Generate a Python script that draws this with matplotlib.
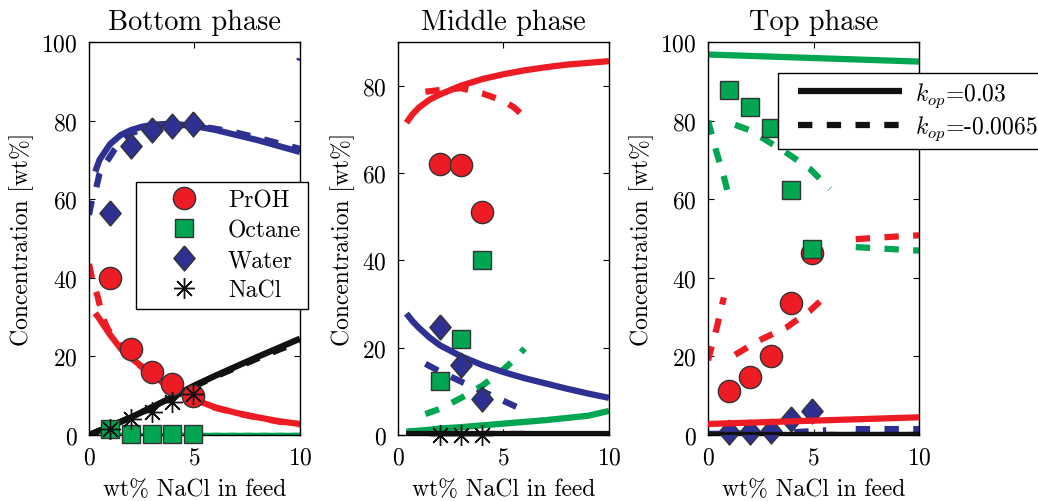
import matplotlib.pyplot as plt
from matplotlib.lines import Line2D
from matplotlib.legend_handler import HandlerLine2D
import numpy as np

plt.rcParams['font.family'] = 'serif'
plt.rcParams['font.serif'] = ['cmr10']
plt.rcParams['mathtext.fontset'] = 'cm'
plt.rcParams['axes.formatter.use_mathtext'] = True
plt.rcParams['font.size'] = 17

nan = np.nan

#couleurs
rouge = '#ED1C24'
vert = '#00A651'
bleu = '#2E3192'
noir = '#111111'

#points experimentaux
xExp = [1.0, 2.0, 3.0, 3.95, 4.95]
xExpMil = [2.0, 3.0, 4.0]

bas_PrOH = [40, 22, 16, 13, 10]
bas_Octane = [1.5, 0.2, 0.2, 0.2, 0.2]
bas_Water = [56.5, 73.5, 77.5, 78.5, 79]
bas_NaCl = [1.5, 4.1, 5.8, 8.3, 10.4]

mil_PrOH = [62, 61.8, 51]
mil_Octane = [12.3, 22, 40]
mil_Water = [24.7, 16, 8.2]
mil_NaCl = [0, 0, 0]

haut_PrOH = [11.3, 14.8, 20, 33.5, 46.3]
haut_Octane = [87.8, 83.5, 78, 62.2, 47.2]
haut_Water = [0.7, 0.7, 1.1, 4.1, 6.2]

#modele, phase du bas (trait plein : kop=0.03, pointilles : kop=-0.0065)
xBas = [0.3, 0.5, 1, 1.5, 2, 2.5, 3, 3.5, 4, 5, 6, 7, 8, 9, 10]
bas_PrOH_sol = [31, 29.5, 25.5, 22, 19.5, 17.5, 15.5, 13.3, 11.5, 9, 7, 5.6, 4.5, 3.5, 2.8]
bas_Water_sol = [67, 70, 74, 76.3, 77.6, 78.4, 78.9, 79.1, 79.1, 78.6, 77.6, 76.3, 75, 73.5, 72]
xBasN = [0, 1, 2, 3, 4, 5, 6, 7, 8, 9, 10]
bas_NaCl_sol = [0, 2.2, 4.5, 7.1, 9.8, 12.6, 15.1, 17.5, 19.9, 22.2, 24.5]
bas_NaCl_tir = [0, 2.2, 4.5, 7.1, 9.7, 12.4, 14.9, 17.2, 19.5, 21.7, 23.8]
xBasO = [0.5, 10]
bas_Octane_sol = [0.3, 0.3]
bas_Octane_tir = [0.3, 0.3]
xBasPt = [0, 0.2, 0.4, 0.6, 0.8, 1.0, 1.3, 2, 3, 4, 5, 6, 7, 8, 9, 10]
bas_PrOH_tir = [43.5, 38.5, 35.5, 31, 28, 26, 24, 19.3, 15.3, 11.4, 8.9, 6.9, 5.5, 4.4, 3.4, 2.7]
xBasWt = [0, 0.15, 0.35, 0.5, 0.7, 0.9, 1.2, 1.6, 2, 3, 4, 5, 6, 7, 8, 9, 10, nan, 9.97, 10]
bas_Water_tir = [56, 60, 63, 66.5, 68.5, 70, 72.5, 75, 76.8, 78.5, 79, 78.7, 77.9, 76.9, 75.6, 74.2, 72.8, nan, 95.2, 95.8]

#modele, phase du milieu
xMil = [0.4, 0.7, 1, 1.5, 2, 3, 4, 5, 6, 7, 8, 9, 10]
mil_PrOH_sol = [71.5, 73.5, 75, 76.8, 78, 80, 81.5, 82.6, 83.5, 84.2, 84.8, 85.2, 85.6]
mil_Water_sol = [27.8, 26, 24.5, 22.3, 20.5, 18, 16, 14.4, 13, 11.8, 10.6, 9.5, 8.5]
mil_Octane_sol = [0.8, 0.9, 1.0, 1.2, 1.5, 1.8, 2.2, 2.6, 3.0, 3.4, 3.9, 4.4, 5.5]
mil_NaCl_sol = [0.2] * 13
xMilT = [1.3, 2, 3, 4, 5, 5.5, 6]
mil_PrOH_tir = [78.6, 79, 79.4, 78.2, 76.5, 75, 72.8]
mil_Water_tir = [16.3, 14.5, 12.2, 10, 7.8, 6.7, 5.6]
mil_Octane_tir = [4.8, 6, 8.5, 11.3, 15, 17.2, 19.8]
mil_NaCl_tir = [0.2] * 7

#modele, phase du haut
xHaut = [0, 10]
haut_Octane_sol = [96.8, 95]
haut_PrOH_sol = [2.8, 4.5]
haut_Water_sol = [0, 0]
haut_NaCl_sol = [0, 0]
xHautO = [0, 0.4, 0.8, 0.97, nan, 1.28, 2, 2.78, 3.8, 4.83, 5.78, nan, 7, 8, 9, 10]
haut_Octane_tir = [80, 72, 64.7, 61, nan, 78.9, 77.5, 74.9, 71.5, 67.7, 62.6, nan, 47.8, 47.5, 47.2, 46.9]
xHautP = [0, 0.4, 0.75, nan, 1.28, 2.4, 3.73, 4.83, 5.78, nan, 7, 8, 9, 10]
haut_PrOH_tir = [19, 27, 35, nan, 20.4, 24, 27.4, 31.6, 36.3, nan, 49.8, 50.2, 50.5, 50.8]
xHautW = [0, 1, 2, 3, 4, 5, 5.6, nan, 7, 8, 9, 10]
haut_Water_tir = [0.3, 0.3, 0.4, 0.5, 0.7, 1, 1.2, nan, 1.5, 1.5, 1.5, 1.5]
haut_NaCl_tir = [0, 0]

#styles des marqueurs
losange = [(0, 1), (0.85, 0), (0, -1), (-0.85, 0), (0, 1)]
etoile = (8, 2, 0)
styleRond = dict(marker='o', ms=16, mfc=rouge, mec='#333333', mew=1, ls='none')
styleCarre = dict(marker='s', ms=12.5, mfc=vert, mec='#333333', mew=1, ls='none')
styleLos = dict(marker=losange, ms=18, mfc=bleu, mec='#333333', mew=1, ls='none')
styleEt = dict(marker=etoile, ms=15, mec=noir, mew=1, ls='none')

ep = 4.5
tirets = (2.3, 2.3)


def plein(ax, x, y, c, lw=ep, z=2):
    ax.plot(x, y, '-', color=c, lw=lw, solid_capstyle='butt', zorder=z)


def tire(ax, x, y, c, lw=ep):
    ax.plot(x, y, '--', color=c, lw=lw, dashes=tirets, dash_capstyle='butt', zorder=2)


def habiller(ax, titre, ymax, yticks):
    ax.set_xlim(0, 10)
    ax.set_ylim(0, ymax)
    ax.set_xticks([0, 5, 10])
    ax.set_yticks(yticks)
    ax.tick_params(direction='in', top=True, right=True, length=4, width=0.8, pad=8)
    ax.set_title(titre, pad=9)
    ax.set_xlabel('wt% NaCl in feed', labelpad=7)
    ax.set_ylabel('Concentration [wt%]', labelpad=5)
    for s in ax.spines.values():
        s.set_linewidth(1)


fig = plt.figure(figsize=(10.38, 5.02), dpi=100)
axB = fig.add_axes([0.0857, 0.1315, 0.2033, 0.783])
axM = fig.add_axes([0.3834, 0.1315, 0.2033, 0.783])
axH = fig.add_axes([0.6821, 0.1315, 0.2033, 0.783])

#Bottom phase
tire(axB, xBasPt, bas_PrOH_tir, rouge)
tire(axB, xBasWt, bas_Water_tir, bleu)
tire(axB, xBasN, bas_NaCl_tir, noir)
tire(axB, xBasO, bas_Octane_tir, vert, lw=2.5)
plein(axB, xBas, bas_PrOH_sol, rouge)
plein(axB, xBas, bas_Water_sol, bleu)
plein(axB, xBasN, bas_NaCl_sol, noir)
plein(axB, xBasO, bas_Octane_sol, vert, lw=2.5)
axB.plot(xExp, bas_PrOH, clip_on=False, zorder=3, **styleRond)
axB.plot(xExp, bas_Octane, clip_on=False, zorder=3, **styleCarre)
axB.plot(xExp, bas_Water, clip_on=False, zorder=3, **styleLos)
axB.plot(xExp, bas_NaCl, clip_on=False, zorder=3, **styleEt)
habiller(axB, 'Bottom phase', 100, [0, 20, 40, 60, 80, 100])

#Middle phase
tire(axM, xMilT, mil_PrOH_tir, rouge)
tire(axM, xMilT, mil_Water_tir, bleu)
tire(axM, xMilT, mil_Octane_tir, vert)
tire(axM, xMilT, mil_NaCl_tir, noir)
plein(axM, xMil, mil_PrOH_sol, rouge)
plein(axM, xMil, mil_Water_sol, bleu)
plein(axM, xMil, mil_Octane_sol, vert)
plein(axM, xMil, mil_NaCl_sol, noir)
axM.plot(xExpMil, mil_PrOH, clip_on=False, zorder=3, **styleRond)
axM.plot(xExpMil, mil_Octane, clip_on=False, zorder=3, **styleCarre)
axM.plot(xExpMil, mil_Water, clip_on=False, zorder=3, **styleLos)
axM.plot(xExpMil, mil_NaCl, clip_on=False, zorder=3, **styleEt)
habiller(axM, 'Middle phase', 90, [0, 20, 40, 60, 80])

#Top phase
tire(axH, xHautO, haut_Octane_tir, vert)
tire(axH, xHautP, haut_PrOH_tir, rouge)
tire(axH, xHautW, haut_Water_tir, bleu)
tire(axH, xHaut, haut_NaCl_tir, noir)
plein(axH, xHaut, haut_Octane_sol, vert)
plein(axH, xHaut, haut_Water_sol, bleu)
axH.plot(xExp, haut_PrOH, clip_on=False, zorder=3, **styleRond)
axH.plot(xExp, haut_Octane, clip_on=False, zorder=3, **styleCarre)
axH.plot(xExp, haut_Water, clip_on=False, zorder=3, **styleLos)
plein(axH, xHaut, haut_PrOH_sol, rouge, z=4)
plein(axH, xHaut, haut_NaCl_sol, noir, z=4)
habiller(axH, 'Top phase', 100, [0, 20, 40, 60, 80, 100])

#legende des especes
poignees = [Line2D([], [], **styleRond), Line2D([], [], **styleCarre),
            Line2D([], [], **styleLos), Line2D([], [], **styleEt)]
noms = ['PrOH', 'Octane', 'Water', 'NaCl']
leg1 = axB.legend(poignees, noms, loc='upper left', bbox_to_anchor=(0.223, 0.644),
                  borderaxespad=0, fancybox=False, framealpha=1, edgecolor='black',
                  handlelength=3.47, handletextpad=0.13, borderpad=0.3, labelspacing=0.34)
leg1.get_frame().set_linewidth(1)

#legende du parametre kop
poignees2 = [Line2D([], [], color=noir, lw=ep, solid_capstyle='butt'),
             Line2D([], [], color=noir, lw=ep, ls='--', dashes=tirets, dash_capstyle='butt')]
noms2 = [r'$k_{op}$=0.03', r'$k_{op}$=-0.0065']
leg2 = axH.legend(poignees2, noms2, loc='upper left', bbox_to_anchor=(0.33, 0.921),
                  borderaxespad=0, fancybox=False, framealpha=1, edgecolor='black',
                  handlelength=4.97, handletextpad=0.55, borderpad=0.3, labelspacing=0.21,
                  handler_map={Line2D: HandlerLine2D(xpad=0.56)})
leg2.get_frame().set_linewidth(1)

plt.savefig('out.png', dpi=100)
